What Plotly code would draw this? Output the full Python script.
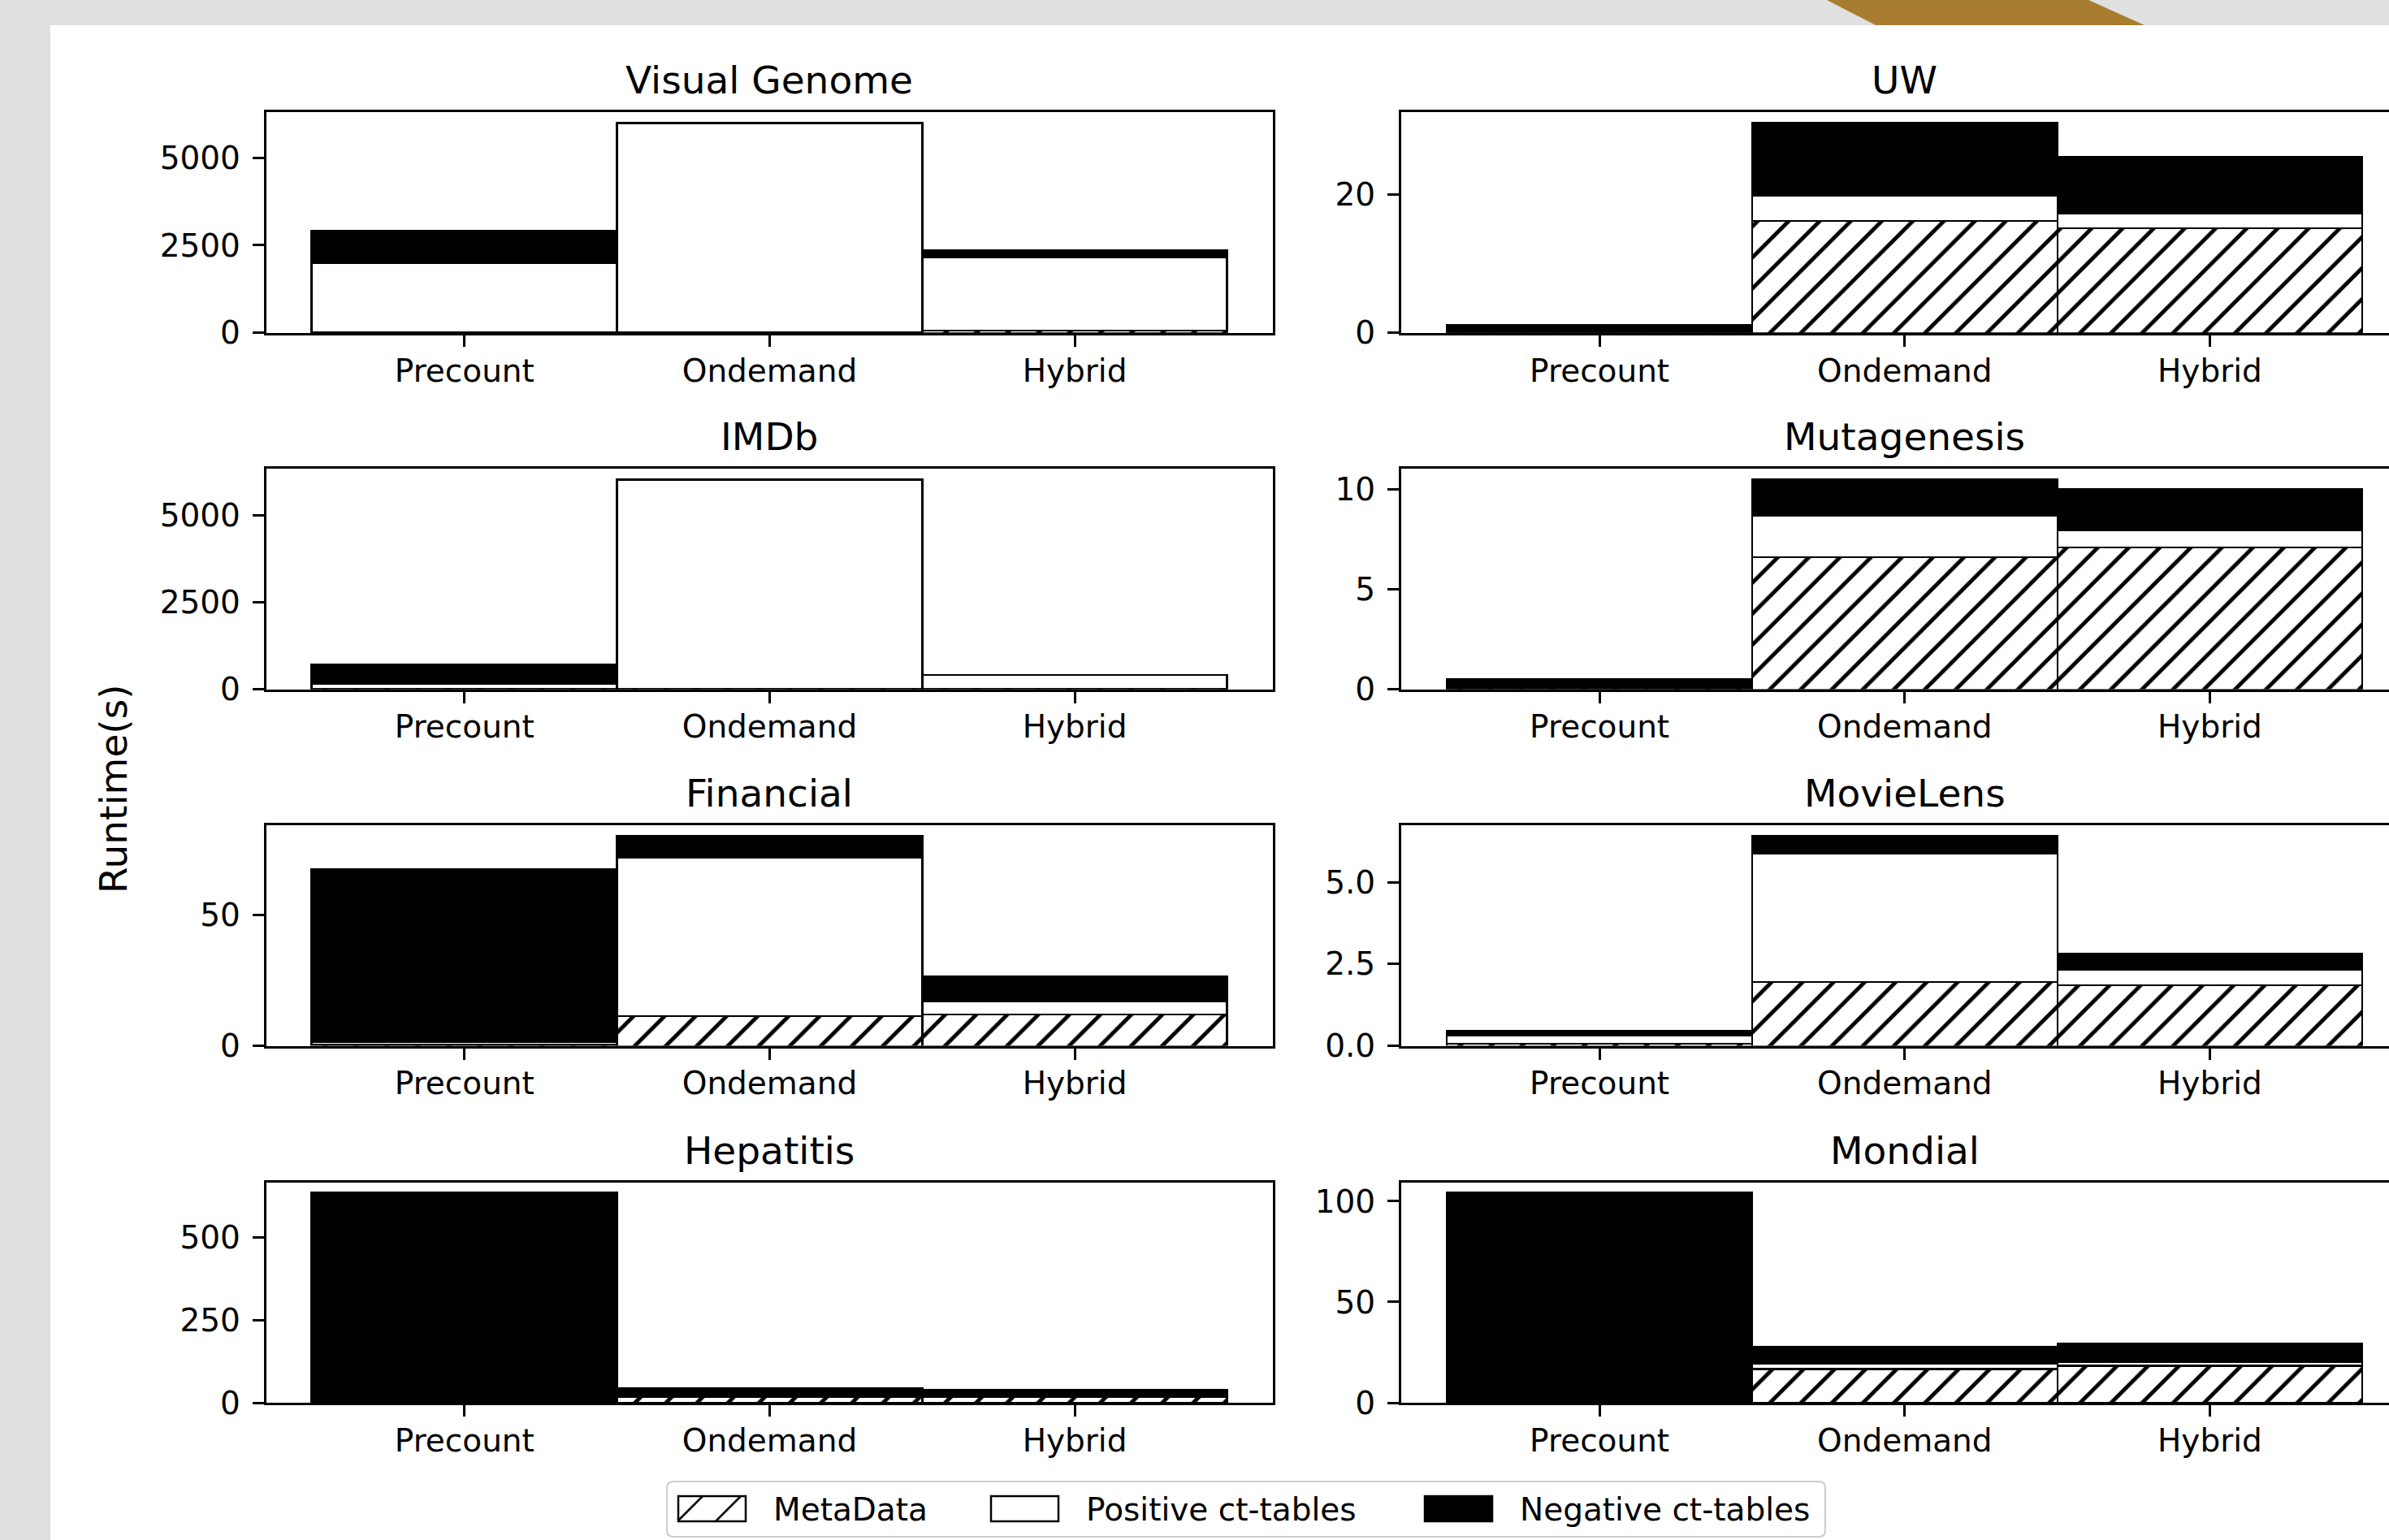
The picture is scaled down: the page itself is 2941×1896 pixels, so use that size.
import plotly.graph_objects as go

# ---------------- data ----------------
METHODS = ["Precount", "Ondemand", "Hybrid"]
DATASETS = ["Visual Genome", "UW", "IMDb", "Mutagenesis",
            "Financial", "MovieLens", "Hepatitis", "Mondial"]
COMPONENTS = ["MetaData", "Positive ct-tables", "Negative ct-tables"]

VG_META = [5, 10, 60]
VG_POS = [1985, 5960, 2077]
VG_NEG = [910, 25, 217]

UW_META = [0.05, 16.1, 15.0]
UW_POS = [0.07, 3.6, 2.15]
UW_NEG = [1.05, 10.6, 8.25]

IMDB_META = [5, 10, 10]
IMDB_POS = [145, 6010, 390]
IMDB_NEG = [553, 20, 10]

MUTA_META = [0.02, 6.6, 7.1]
MUTA_POS = [0.05, 2.05, 0.85]
MUTA_NEG = [0.45, 1.85, 2.05]

FIN_META = [0.5, 11.4, 11.8]
FIN_POS = [0.8, 60.4, 5.2]
FIN_NEG = [66.1, 8.3, 9.5]

ML_META = [0.05, 1.96, 1.86]
ML_POS = [0.27, 3.92, 0.47]
ML_NEG = [0.13, 0.54, 0.48]

HEP_META = [1, 19, 18]
HEP_POS = [3, 2, 1]
HEP_NEG = [630, 23, 20]

MON_META = [0.2, 16.6, 18.3]
MON_POS = [0.5, 3.1, 2.0]
MON_NEG = [103.5, 7.8, 8.9]

VG_TICKS = [0, 2500, 5000]
UW_TICKS = [0, 20]
IMDB_TICKS = [0, 2500, 5000]
MUTA_TICKS = [0, 5, 10]
FIN_TICKS = [0, 50]
ML_TICKS = [0, 2.5, 5.0]
HEP_TICKS = [0, 250, 500]
MON_TICKS = [0, 50, 100]

PANELS = [
    (VG_META, VG_POS, VG_NEG, VG_TICKS),
    (UW_META, UW_POS, UW_NEG, UW_TICKS),
    (IMDB_META, IMDB_POS, IMDB_NEG, IMDB_TICKS),
    (MUTA_META, MUTA_POS, MUTA_NEG, MUTA_TICKS),
    (FIN_META, FIN_POS, FIN_NEG, FIN_TICKS),
    (ML_META, ML_POS, ML_NEG, ML_TICKS),
    (HEP_META, HEP_POS, HEP_NEG, HEP_TICKS),
    (MON_META, MON_POS, MON_NEG, MON_TICKS),
]

# ---------------- layout geometry (pixels) ----------------
W, H = 2941, 1896
FONT = "DejaVu Sans"
TICK_SIZE = 39
TITLE_SIZE = 47

LEFT_COL = (327.7, 1567.2)
RIGHT_COL_START = 1725.0
ROW_TOPS = [138.3, 577.0, 1016.0, 1455.5]
ROW_H = 271.5
UNIT_PX = (LEFT_COL[1] - LEFT_COL[0]) / 3.3
X_RANGE_LEFT = [-0.65, 2.65]
X_RANGE_RIGHT = [-0.65, -0.65 + (W - RIGHT_COL_START) / UNIT_PX]


def px_x(x):
    return x / W


def px_y(y):
    return 1 - y / H


META_MARKER = dict(color="white",
                   line=dict(color="black", width=2.5),
                   pattern=dict(shape="/", fgcolor="black", bgcolor="white",
                                size=27, solidity=0.18, fillmode="replace"))
POS_MARKER = dict(color="white", line=dict(color="black", width=2.5))
NEG_MARKER = dict(color="black", line=dict(color="black", width=2.5))

fig = go.Figure()
annotations = []
layout_axes = {}

for i, (name, (meta, pos, neg, ticks)) in enumerate(zip(DATASETS, PANELS)):
    row, col = divmod(i, 2)
    idx = i + 1
    xa = "x" if idx == 1 else f"x{idx}"
    ya = "y" if idx == 1 else f"y{idx}"
    for vals, marker, comp in ((meta, META_MARKER, COMPONENTS[0]),
                               (pos, POS_MARKER, COMPONENTS[1]),
                               (neg, NEG_MARKER, COMPONENTS[2])):
        fig.add_trace(go.Bar(x=METHODS, y=vals, marker=marker, name=comp,
                             xaxis=xa, yaxis=ya, showlegend=False,
                             hoverinfo="x+y+name"))
    totals = [a + b + c for a, b, c in zip(meta, pos, neg)]
    ymax = max(totals) * 1.05

    top = ROW_TOPS[row]
    bottom = top + ROW_H
    if col == 0:
        xdom = [px_x(LEFT_COL[0]), px_x(LEFT_COL[1])]
        xrange = X_RANGE_LEFT
        xc = (xdom[0] + xdom[1]) / 2
    else:
        xdom = [px_x(RIGHT_COL_START), 1.0]
        xrange = X_RANGE_RIGHT
        xc = px_x(RIGHT_COL_START + 3.3 * UNIT_PX / 2)
    ydom = [px_y(bottom), px_y(top)]

    common = dict(showline=True, linecolor="black", linewidth=3,
                  ticks="outside", ticklen=14, tickwidth=3, tickcolor="black",
                  tickfont=dict(family=FONT, size=TICK_SIZE, color="black"),
                  showgrid=False, zeroline=False, automargin=False,
                  fixedrange=True)
    xkey = "xaxis" if idx == 1 else f"xaxis{idx}"
    ykey = "yaxis" if idx == 1 else f"yaxis{idx}"
    layout_axes[xkey] = dict(common, domain=xdom, anchor=ya, type="category",
                             range=xrange, mirror=True, ticklabelstandoff=-4)
    layout_axes[ykey] = dict(common, domain=ydom, anchor=xa, range=[0, ymax],
                             tickvals=ticks, mirror=(col == 0),
                             tickformat=".1f" if name == "MovieLens" else None,
                             ticklabelstandoff=7)
    annotations.append(dict(text=name, x=xc, y=ydom[1], xref="paper", yref="paper",
                            xanchor="center", yanchor="bottom", yshift=10,
                            showarrow=False,
                            font=dict(family=FONT, size=TITLE_SIZE, color="black")))

# y label
annotations.append(dict(text="Runtime(s)", x=px_x(140), y=px_y(972), xref="paper",
                        yref="paper", textangle=-90, showarrow=False,
                        xanchor="center", yanchor="middle",
                        font=dict(family=FONT, size=TITLE_SIZE, color="black")))

shapes = []
# background panel and decoration
shapes.append(dict(type="rect", xref="paper", yref="paper", x0=px_x(62), x1=1.0,
                   y0=0, y1=px_y(31), fillcolor="white", line=dict(width=0),
                   layer="below"))
shapes.append(dict(type="path", xref="paper", yref="paper",
                   path=(f"M {px_x(2249)},{px_y(0)} L {px_x(2571)},{px_y(0)} "
                         f"L {px_x(2640)},{px_y(31)} L {px_x(2309)},{px_y(31)} Z"),
                   fillcolor="#a97d30", line=dict(width=0), layer="below"))

# legend box (rounded)
LX0, LY0, LX1, LY1, R = 821, 1824, 2247, 1892, 8
lp = (f"M {px_x(LX0 + R)},{px_y(LY0)} L {px_x(LX1 - R)},{px_y(LY0)} "
      f"Q {px_x(LX1)},{px_y(LY0)} {px_x(LX1)},{px_y(LY0 + R)} "
      f"L {px_x(LX1)},{px_y(LY1 - R)} Q {px_x(LX1)},{px_y(LY1)} {px_x(LX1 - R)},{px_y(LY1)} "
      f"L {px_x(LX0 + R)},{px_y(LY1)} Q {px_x(LX0)},{px_y(LY1)} {px_x(LX0)},{px_y(LY1 - R)} "
      f"L {px_x(LX0)},{px_y(LY0 + R)} Q {px_x(LX0)},{px_y(LY0)} {px_x(LX0 + R)},{px_y(LY0)} Z")
shapes.append(dict(type="path", xref="paper", yref="paper", path=lp,
                   fillcolor="white", line=dict(color="#cccccc", width=2)))

PATCH_Y0, PATCH_Y1 = 1842, 1873
LEGEND_ITEMS = [(835, 950, "meta"), (1220, 1335, "pos"), (1754, 1869, "neg")]
for (px0, tx, kind), label in zip(LEGEND_ITEMS, COMPONENTS):
    px1 = px0 + 83
    fill = "black" if kind == "neg" else "white"
    shapes.append(dict(type="rect", xref="paper", yref="paper",
                       x0=px_x(px0), x1=px_x(px1), y0=px_y(PATCH_Y1), y1=px_y(PATCH_Y0),
                       fillcolor=fill, line=dict(color="black", width=2.5)))
    if kind == "meta":
        c = px0 + PATCH_Y0 + 30
        while c < px1 + PATCH_Y1:
            xa_ = max(px0, c - PATCH_Y1)
            xb_ = min(px1, c - PATCH_Y0)
            if xb_ > xa_:
                shapes.append(dict(type="line", xref="paper", yref="paper",
                                   x0=px_x(xa_), y0=px_y(c - xa_),
                                   x1=px_x(xb_), y1=px_y(c - xb_),
                                   line=dict(color="black", width=2.5)))
            c += 47
    annotations.append(dict(text=label, x=px_x(tx), y=px_y(1858), xref="paper",
                            yref="paper", xanchor="left", yanchor="middle",
                            showarrow=False,
                            font=dict(family=FONT, size=TICK_SIZE, color="black")))

fig.update_layout(
    width=W, height=H,
    margin=dict(l=0, r=0, t=0, b=0, pad=0, autoexpand=False),
    paper_bgcolor="#e0e0e0", plot_bgcolor="white",
    barmode="stack", bargap=0,
    font=dict(family=FONT, color="black"),
    showlegend=False,
    annotations=annotations, shapes=shapes,
    **layout_axes,
)

fig.write_html("out.html", include_plotlyjs=True,
               config={"displayModeBar": False},
               post_script="document.body.style.margin='0';document.body.style.overflow='hidden';")
